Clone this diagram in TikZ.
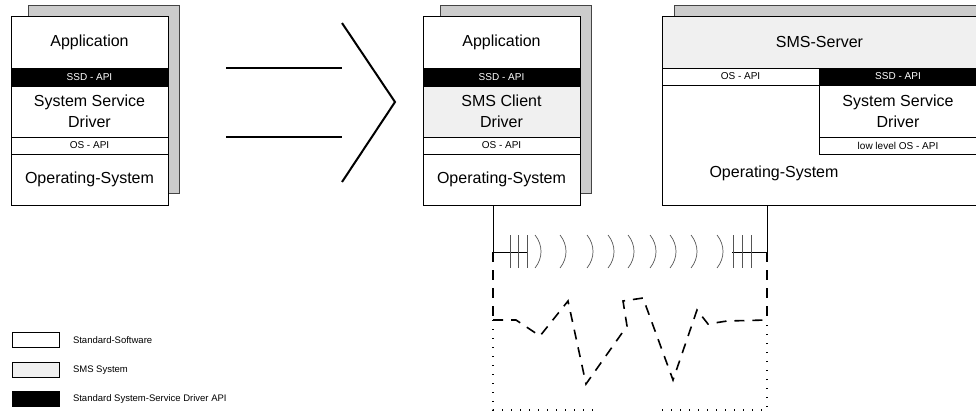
\documentclass[tikz,border=0pt]{standalone}
\usepackage{fontspec}
\setmainfont{Liberation Sans}
\usetikzlibrary{calc}
\definecolor{smsfill}{HTML}{F0F0F0}
\definecolor{platefill}{HTML}{CCCCCC}
\definecolor{plateline}{HTML}{444444}
\definecolor{tick}{HTML}{555555}
\tikzset{
  layer/.style={draw, anchor=north west, inner sep=0pt, outer sep=0pt, align=center, fill=white, line width=0.8pt, font=\fontsize{16}{21}\selectfont},
  api/.style={layer, font=\fontsize{10}{12}\selectfont},
  ssd/.style={api, fill=black, text=white},
  sms/.style={layer, fill=smsfill},
  plate/.style={draw=plateline, fill=platefill, line width=0.8pt},
  bigarr/.style={line width=2pt},
  wave/.style={draw=tick, line width=0.7pt},
  link/.style={dash pattern=on 10pt off 8pt, line width=1.6pt},
  fade/.style={dash pattern=on 1.4pt off 7.6pt, line width=1.4pt},
  key/.style={draw, line width=0.8pt, minimum width=47pt, minimum height=15pt, anchor=north west, inner sep=0pt},
  keytxt/.style={anchor=west, inner sep=0pt, font=\fontsize{9.5}{11}\selectfont}
}
\begin{document}
\begin{tikzpicture}[x=1pt, y=-1pt]
\useasboundingbox (0,0) rectangle (976,415);
\clip (0,0) rectangle (976,415);
\foreach \s/\x/\drv/\f in {l/11/{System Service\\Driver}/white, m/423/{SMS Client\\Driver}/smsfill} {
  \draw[plate] (\x+17,5) rectangle (\x+168,193);
  \node[layer, minimum width=157pt, minimum height=52pt] (\s app) at (\x,16) {Application};
  \node[ssd, minimum width=157pt, minimum height=18pt] (\s ssd) at (\x,68) {SSD - API};
  \node[layer, fill=\f, minimum width=157pt, minimum height=51pt] (\s drv) at (\x,86) {\drv};
  \node[api, minimum width=157pt, minimum height=17pt] (\s osapi) at (\x,137) {OS - API};
  \node[layer, minimum width=157pt, minimum height=51pt] (\s os) at (\x,154) {Operating-System};
}
\draw[plate] (674,5) rectangle (990,193);
\node[layer, minimum width=315pt, minimum height=189pt] (rfront) at (662,16) {};
\node[sms, minimum width=315pt, minimum height=52pt] (rsrv) at (662,16) {SMS-Server};
\node[api, minimum width=157pt, minimum height=17pt] (rosapi) at (662,68) {OS - API};
\node[ssd, minimum width=158pt, minimum height=17pt] (rssd) at (819,68) {SSD - API};
\node[layer, minimum width=158pt, minimum height=52pt] (rdrv) at (819,85) {System Service\\Driver};
\node[api, minimum width=158pt, minimum height=17pt] (rlow) at (819,137) {low level OS - API};
\node[font=\fontsize{16}{21}\selectfont] (ros) at (774,173) {Operating-System};

\draw[bigarr] (226,68) -- (342,68);
\draw[bigarr] (226,137) -- (342,137);
\draw[bigarr] (342,23) -- (395,102) -- (342,182);

\coordinate (cl) at (493,252);
\coordinate (cr) at (767,252);
\draw[line width=0.8pt] (mos.south -| cl) -- (cl) -- ++(35,0);
\draw[line width=0.8pt] (rfront.south -| cr) -- (cr) -- ++(-35,0);
\foreach \t in {510,518,527,733,742,751}
  \draw[wave] (\t,235) -- (\t,268);
\foreach \a in {535,560,587,608,628,650,670,691,717}
  \draw[wave] (\a,235) .. controls (\a+8,245) and (\a+8,258) .. (\a,268);

\draw[link] (cl) -- (493,320);
\draw[link] (cr) -- (767,320);
\draw[link] (493,320) -- (516,320) -- (540,336) -- (568,301) -- (586,384) -- (627,326) -- (623,301) -- (643,298) -- (673,380) -- (697,310) -- (708,324) -- (727,321) -- (767,320);
\draw[fade] (493,320) -- (493,410) -- (598,410);
\draw[fade] (662,410) -- (767,410) -- (767,320);

\node[key] (k1) at (12,332) {};
\node[key, fill=smsfill] (k2) at (12,362) {};
\node[key, fill=black] (k3) at (12,391) {};
\node[keytxt] (t1) at ([xshift=13pt]k1.east) {Standard-Software};
\node[keytxt] (t2) at ([xshift=13pt]k2.east) {SMS System};
\node[keytxt] (t3) at ([xshift=13pt]k3.east) {Standard System-Service Driver API};
\end{tikzpicture}
\end{document}
